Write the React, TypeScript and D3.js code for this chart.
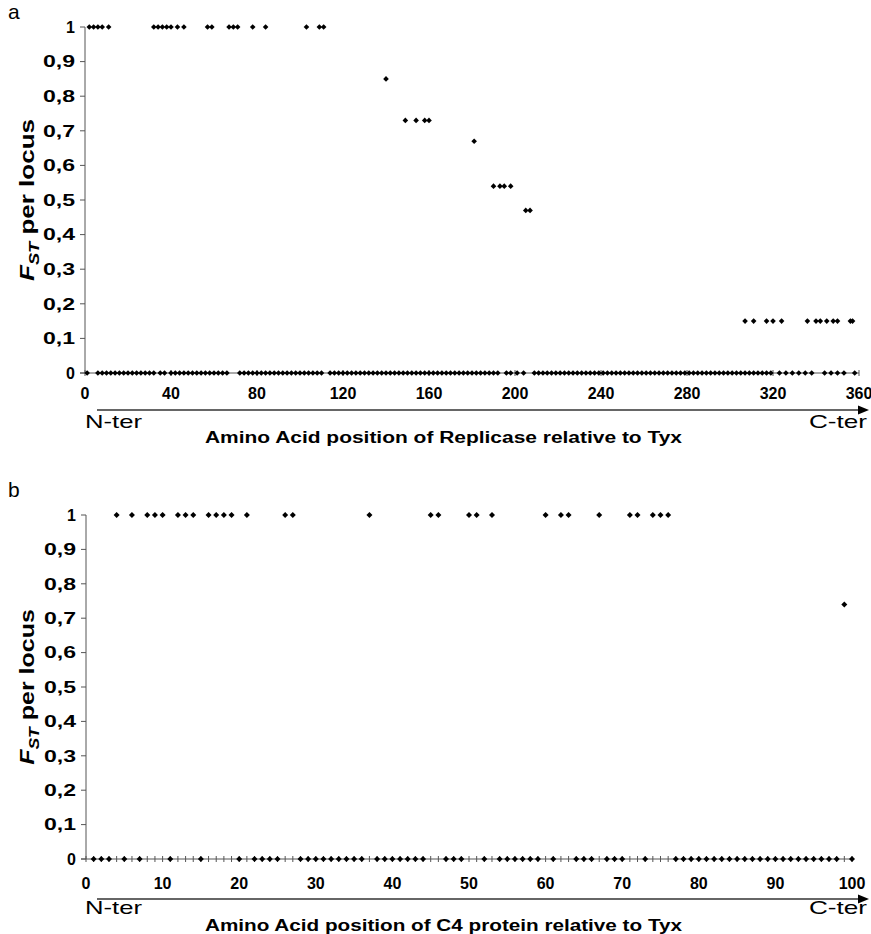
import * as d3 from 'd3'

// Panel a: Replicase
const replicaseOnePos = [2, 4, 6, 8, 11, 32, 34, 36, 38, 40, 43, 46, 57, 59, 67, 69, 71, 78, 84, 103, 109, 111]
const replicaseMidPos = [140, 149, 154, 158, 160, 181, 190, 193, 195, 198, 205, 207]
const replicaseMidFst = [0.85, 0.73, 0.73, 0.73, 0.73, 0.67, 0.54, 0.54, 0.54, 0.54, 0.47, 0.47]
const replicaseLowPos = [307, 311, 317, 320, 324, 336, 340, 342, 345, 348, 350, 356, 357]
const replicaseLowFst = 0.15
const replicaseZeroPos = [
  1, 6, 8, 10, 12, 14, 16, 18, 20, 22, 24, 26, 28, 30, 32, 35, 37, 40, 42, 44, 46, 48, 50, 52, 54, 56, 58,
  60, 62, 64, 66, 72, 74, 76, 78, 80, 82, 84, 86, 88, 90, 92, 94, 96, 98, 100, 102, 104, 106, 108, 110,
  114, 116, 118, 120, 122, 124, 126, 128, 130, 132, 134, 136, 138, 140, 142, 144, 146, 148, 150, 152, 154,
  156, 158, 160, 162, 164, 166, 168, 170, 172, 174, 176, 178, 180, 182, 184, 186, 188, 190, 192, 196, 198,
  201, 204, 209, 211, 213, 215, 217, 219, 221, 223, 225, 227, 229, 231, 233, 235, 237, 239, 241, 243, 245,
  247, 249, 251, 253, 255, 257, 259, 261, 263, 265, 267, 269, 271, 273, 275, 277, 279, 281, 283, 285, 287,
  289, 291, 293, 295, 297, 299, 301, 303, 305, 307, 309, 311, 313, 315, 317, 319, 323, 326, 329, 332, 335,
  338, 344, 347, 350, 353, 358,
]
const replicaseXTicks = [0, 40, 80, 120, 160, 200, 240, 280, 320, 360]

// Panel b: C4 protein
const c4OnePos = [4, 6, 8, 9, 10, 12, 13, 14, 16, 17, 18, 19, 21, 26, 27, 37, 45, 46, 50, 51, 53, 60, 62, 63, 67, 71, 72, 74, 75, 76]
const c4MidPos = [99]
const c4MidFst = [0.74]
const c4ZeroPos = [
  1, 2, 3, 5, 7, 11, 15, 20, 22, 23, 24, 25, 28, 29, 30, 31, 32, 33, 34, 35, 36, 38, 39, 40, 41, 42, 43, 44,
  47, 48, 49, 52, 54, 55, 56, 57, 58, 59, 61, 64, 65, 66, 68, 69, 70, 73, 77, 78, 79, 80, 81, 82, 83, 84, 85,
  86, 87, 88, 89, 90, 91, 92, 93, 94, 95, 96, 97, 98, 100,
]
const c4XTicks = [0, 10, 20, 30, 40, 50, 60, 70, 80, 90, 100]

const yTicks = [0, 0.1, 0.2, 0.3, 0.4, 0.5, 0.6, 0.7, 0.8, 0.9, 1]

const FONT = '"Liberation Sans", Arial, Helvetica, sans-serif'

type Pt = { x: number; y: number }

interface PanelProps {
  letter: string
  letterY: number
  points: Pt[]
  xMax: number
  xTicks: number[]
  minorTicks: number[]
  left: number
  right: number
  top: number
  bottom: number
  labelY: number
  arrowY: number
  terY: number
  titleY: number
  title: string
  yTitleGap: string
  yTitleScale: number
  markerSize: number
}

const Panel = (p: PanelProps) => {
  const { left, right, top, bottom } = p
  const x = d3.scaleLinear().domain([0, p.xMax]).range([left, right])
  const y = d3.scaleLinear().domain([0, 1]).range([bottom, top])
  const diamond = d3.symbol().type((d3 as any).symbolDiamond2 || d3.symbolDiamond).size(p.markerSize)()!
  const yMid = (top + bottom) / 2

  return (
    <g>
      <text x={8} y={p.letterY} fontFamily={FONT} fontSize={21}>{p.letter}</text>

      {/* y axis */}
      <line x1={left} x2={left} y1={top} y2={bottom} stroke="#555" strokeWidth={1} />
      {yTicks.map(t => {
        const lbl = t === 0 || t === 1 ? String(t) : t.toFixed(1).replace('.', ',')
        return (
          <g key={t}>
            <line x1={left - 5} x2={left} y1={y(t)} y2={y(t)} stroke="#555" />
            <text x={left - 10} y={y(t)} dy="0.36em" textAnchor="end" fontFamily={FONT} fontWeight="bold" fontSize={16}
              {...(lbl.length > 1 ? { textLength: 32, lengthAdjust: 'spacingAndGlyphs' } : {})}>
              {lbl}
            </text>
          </g>
        )
      })}

      {/* x axis */}
      <line x1={left - 5} x2={right} y1={bottom} y2={bottom} stroke="#555" />
      {p.minorTicks.map(t => (
        <line key={'m' + t} x1={x(t)} x2={x(t)} y1={bottom - 3} y2={bottom + 3} stroke="#555" />
      ))}
      {p.xTicks.map(t => (
        <text key={t} x={x(t)} y={p.labelY} dy="0.36em" textAnchor="middle" fontFamily={FONT} fontWeight="bold" fontSize={16}>{t}</text>
      ))}

      {/* points */}
      {p.points.map((d, i) => (
        <path key={i} d={diamond} transform={`translate(${x(d.x)},${y(d.y)})`} fill="#000" />
      ))}

      {/* y title */}
      <text transform={`translate(34,${yMid}) rotate(-90) scale(${p.yTitleScale},1)`} textAnchor="middle"
        fontFamily={FONT} fontWeight="bold" fontSize={20}>
        <tspan fontStyle="italic">F</tspan>
        <tspan fontStyle="italic" fontSize={14} dy={5}>ST</tspan>
        <tspan dy={-5}>{p.yTitleGap}per locus</tspan>
      </text>

      {/* N -> C arrow */}
      <line x1={97} x2={860} y1={p.arrowY} y2={p.arrowY} stroke="#333" strokeWidth={1.5} />
      <path d={`M${869},${p.arrowY} L${858},${p.arrowY - 4.5} L${858},${p.arrowY + 4.5} Z`} fill="#000" />
      <text x={85} y={p.terY} dy="0.36em" fontFamily={FONT} fontSize={19} textLength={57} lengthAdjust="spacingAndGlyphs">N-ter</text>
      <text x={809} y={p.terY} dy="0.36em" fontFamily={FONT} fontSize={19} textLength={58} lengthAdjust="spacingAndGlyphs">C-ter</text>
      <text x={205} y={p.titleY} dy="0.36em" fontFamily={FONT} fontWeight="bold" fontSize={16}
        textLength={477} lengthAdjust="spacingAndGlyphs">{p.title}</text>
    </g>
  )
}

export default function App() {
  const ptsA: Pt[] = [
    ...replicaseZeroPos.map(p => ({ x: p, y: 0 })),
    ...replicaseOnePos.map(p => ({ x: p, y: 1 })),
    ...replicaseMidPos.map((p, i) => ({ x: p, y: replicaseMidFst[i] })),
    ...replicaseLowPos.map(p => ({ x: p, y: replicaseLowFst })),
  ]
  const ptsB: Pt[] = [
    ...c4ZeroPos.map(p => ({ x: p, y: 0 })),
    ...c4OnePos.map(p => ({ x: p, y: 1 })),
    ...c4MidPos.map((p, i) => ({ x: p, y: c4MidFst[i] })),
  ]

  return (
    <svg width={871} height={934} style={{ position: 'absolute', left: 0, top: 0, background: '#fff' }}>
      <Panel
        letter="a"
        letterY={19}
        points={ptsA}
        xMax={360}
        xTicks={replicaseXTicks}
        minorTicks={replicaseXTicks}
        left={85}
        right={859}
        top={27}
        bottom={373}
        labelY={393}
        arrowY={410}
        terY={421}
        titleY={437}
        title="Amino Acid position of Replicase relative to Tyx"
        yTitleGap=" "
        yTitleScale={1.3}
        markerSize={20}
      />
      <Panel
        letter="b"
        letterY={497}
        points={ptsB}
        xMax={100}
        xTicks={c4XTicks}
        minorTicks={d3.range(0, 101)}
        left={86}
        right={852}
        top={515}
        bottom={859}
        labelY={883}
        arrowY={899}
        terY={907}
        titleY={925}
        title="Amino Acid position of C4 protein relative to Tyx"
        yTitleGap="  "
        yTitleScale={1.25}
        markerSize={23}
      />
    </svg>
  )
}
